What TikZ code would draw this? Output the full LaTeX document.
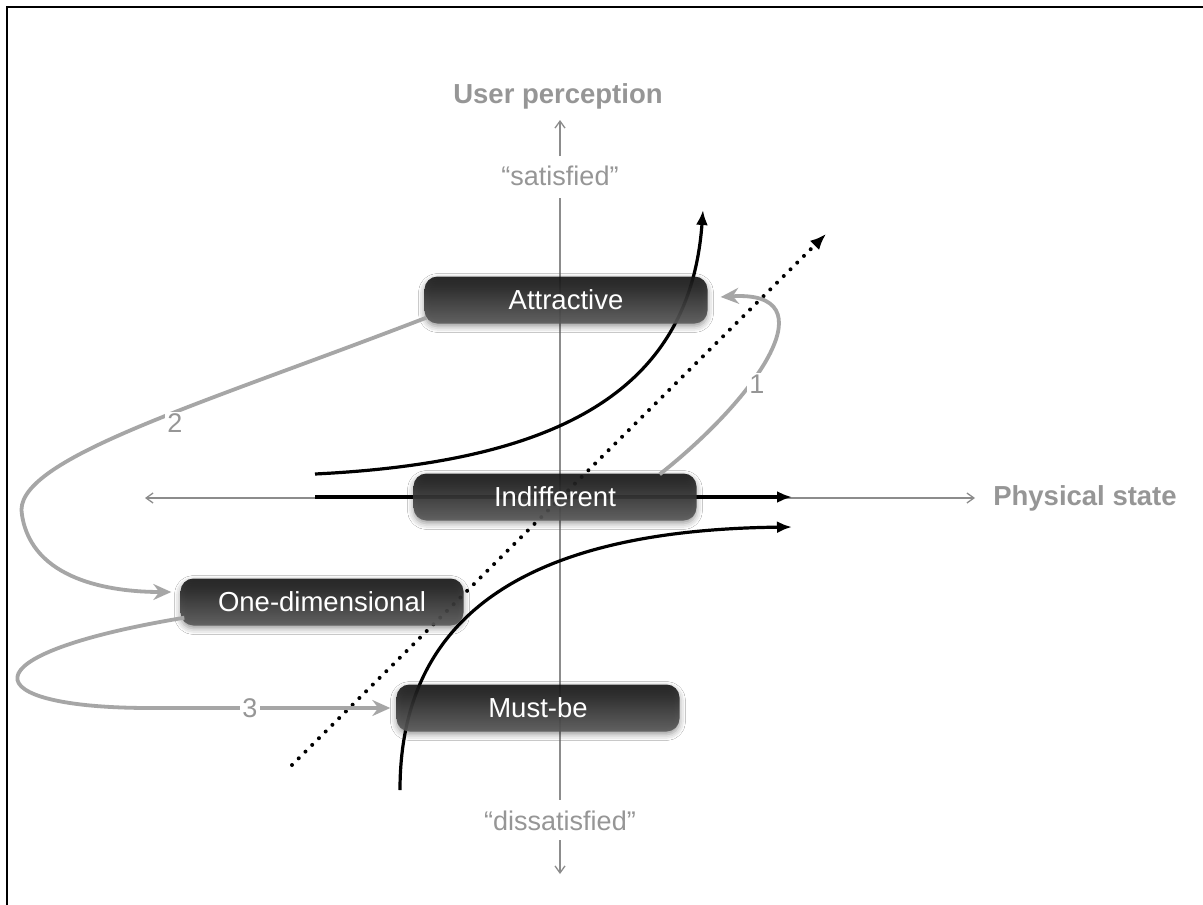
\documentclass[tikz,border=0pt]{standalone}
\usepackage{fontspec}
\setmainfont{Liberation Sans}
\usetikzlibrary{arrows.meta,shadows.blur}
\definecolor{axisgray}{HTML}{8C8C8C}
\definecolor{labgray}{HTML}{969696}
\definecolor{arrgray}{HTML}{A6A6A6}
\newcommand\boxfont{\fontsize{27.5}{31}\selectfont}
\newcommand\axfont{\fontsize{27}{31}\selectfont}
\newcommand\axbold{\fontsize{27.5}{31}\selectfont\bfseries}
\begin{document}
\begin{tikzpicture}[x=1pt,y=-1pt,
  kanobox/.style={rounded corners=13pt, minimum width=283pt, minimum height=47pt,
    top color=black!92, bottom color=black!64, fill opacity=0.9, text opacity=1,
    text=white, font=\boxfont, inner sep=0pt,
    blur shadow={shadow xshift=0pt,shadow yshift=-3pt,shadow blur radius=6pt,shadow opacity=45}},
  axisline/.style={draw=axisgray, line width=1.3pt},
  axtip/.style={-{Straight Barb[length=7pt,width=10pt]}},
  axtext/.style={text=labgray, font=\axfont, inner sep=1pt},
  axhead/.style={text=labgray, font=\axbold, inner sep=1pt},
  blk/.style={draw=black, line width=3.2pt, -{Latex[length=15pt,width=12pt]}},
  garr/.style={draw=arrgray, line width=3.8pt, -{Stealth[length=18pt,width=16pt,inset=6pt]}},
  numlab/.style={text=labgray, font=\axfont, fill=white, inner sep=2pt}
]
\useasboundingbox (0,0) rectangle (1203,905);
\fill[white] (0,0) rectangle (1203,905);
\draw[line width=2pt] (6.7,905) -- (6.7,6.7) -- (1203,6.7);

% axis texts
\node[axhead] (up) at (558,96) {User perception};
\node[axtext] (sat) at (560,176) {“satisfied”};
\node[axtext] (dis) at (560,821) {“dissatisfied”};
\node[axhead] (phys) at (1085,498) {Physical state};

% axes
\coordinate (vtop) at (560,198);
\coordinate (vbot) at (560,800);
\coordinate (uptail) at (560,156);
\coordinate (uptip) at (560,120);
\coordinate (dntail) at (560,840);
\coordinate (dntip) at (560,874);
\coordinate (hl) at (145,498);
\coordinate (hr) at (975,498);
\draw[axisline] (vtop) -- (vbot);
\draw[axisline,axtip] (uptail) -- (uptip);
\draw[axisline,axtip] (dntail) -- (dntip);
\draw[axisline,{Straight Barb[length=7pt,width=10pt]}-{Straight Barb[length=7pt,width=10pt]}] (hl) -- (hr);

% black curves
\coordinate (a0) at (315,474);
\coordinate (a1) at (703,210);
\draw[blk] (a0) .. controls (560,462) and (690,390) .. (a1);
\coordinate (i0) at (315,497);
\coordinate (i1) at (792,497);
\draw[blk] (i0) -- (i1);
\coordinate (m0) at (400,790);
\coordinate (m1) at (792,527);
\draw[blk] (m0) .. controls (400,620) and (520,530) .. (m1);

% dotted diagonal
\coordinate (d0) at (292,765);
\coordinate (d1) at (826,234);
\draw[black, line width=4pt, dash pattern=on 0pt off 9.5pt, line cap=round,
  -{Latex[length=16pt,width=13pt]}] (d0) -- (d1);

% boxes
\node[kanobox] (att) at (566,300) {Attractive};
\node[kanobox] (ind) at (555,497) {Indifferent};
\node[kanobox] (one) at (322,602) {One-dimensional};
\node[kanobox] (must) at (538,708) {Must-be};

% gray transitions
\draw[garr] ([xshift=-37pt,yshift=-1pt]ind.north east) .. controls (760,395) and (830,290) .. ([xshift=13pt,yshift=3pt]att.east);
\draw[garr] ([xshift=2pt,yshift=6pt]att.south west) .. controls (200,405) and (10,460) .. (22,515)
  .. controls (32,580) and (110,592) .. ([xshift=-9pt,yshift=10pt]one.west);
\draw[garr] ([xshift=4pt,yshift=8pt]one.south west) .. controls (-40,655) and (-25,708) .. (150,708)
  -- ([xshift=-6pt]must.west);

\node[numlab] (n1) at (757,384) {1};
\node[numlab] (n2) at (175,423) {2};
\node[numlab] (n3) at (250,708) {3};
\end{tikzpicture}
\end{document}
